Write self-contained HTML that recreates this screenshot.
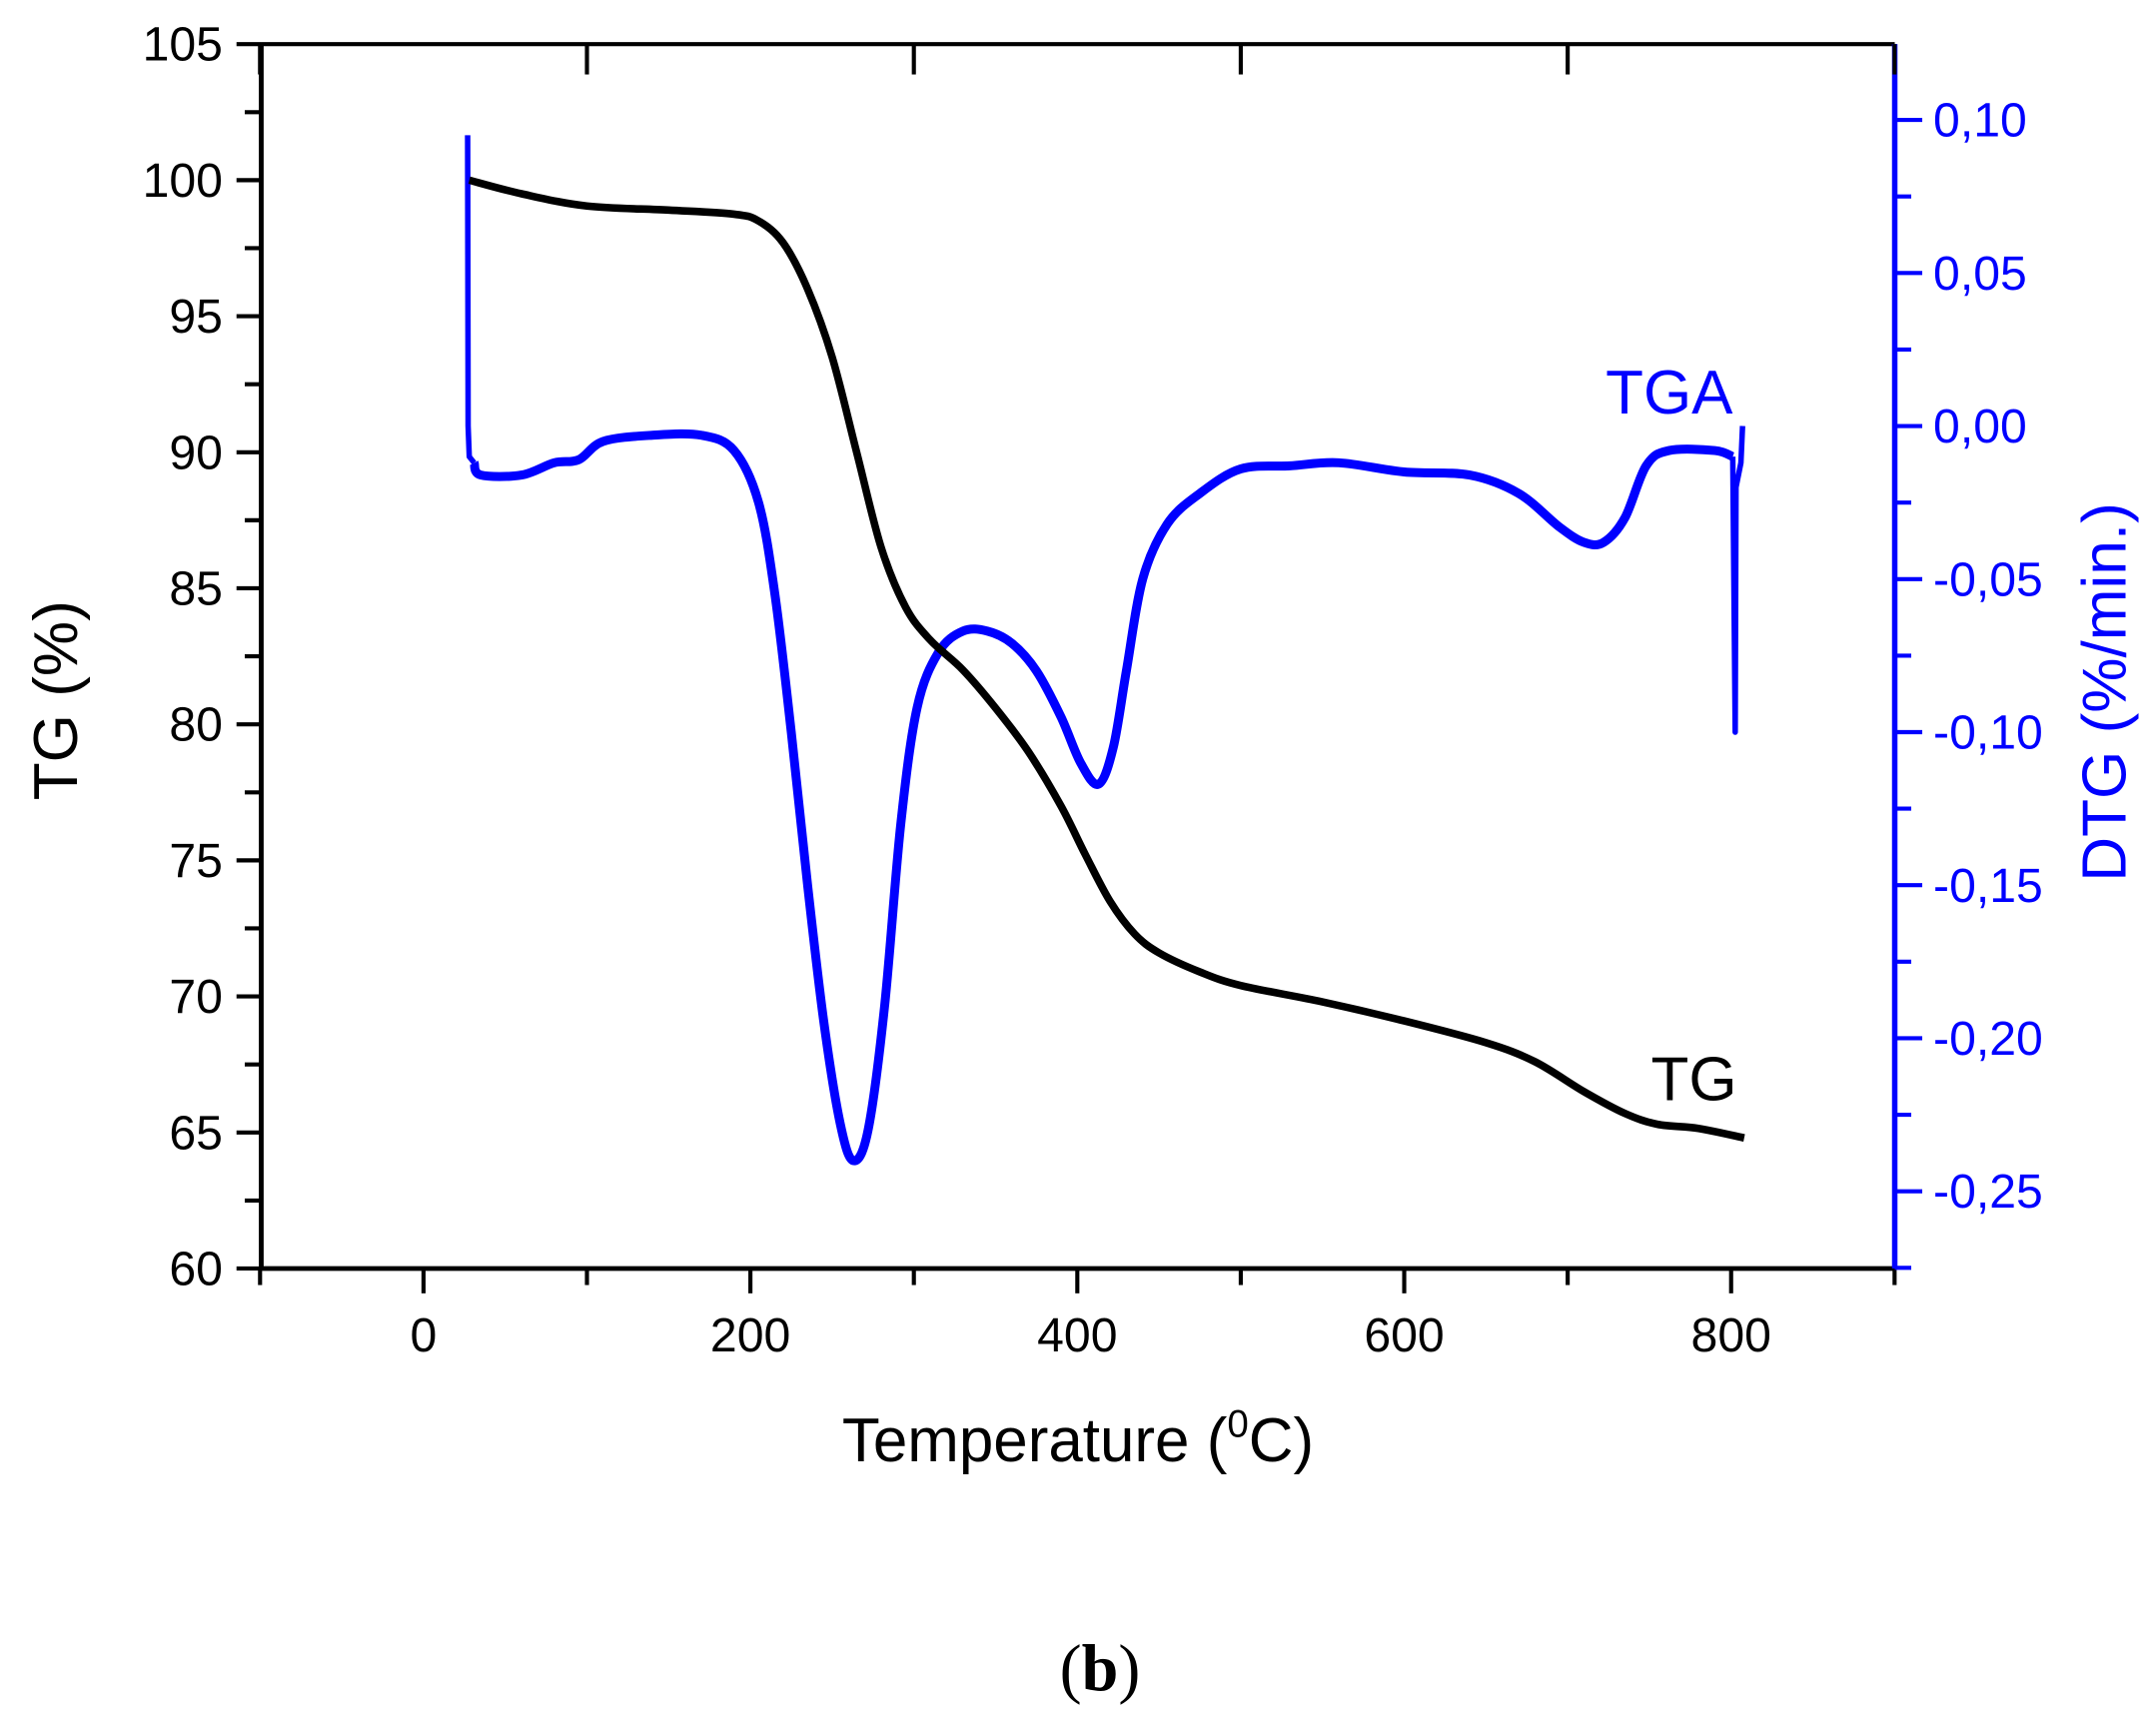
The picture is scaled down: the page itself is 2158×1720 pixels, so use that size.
<!DOCTYPE html>
<html><head><meta charset="utf-8"><style>html,body{margin:0;padding:0;background:#fff;}svg{display:block;}</style></head>
<body>
<svg id="s" width="2158" height="1720" viewBox="0 0 1568 1246" preserveAspectRatio="none" xmlns="http://www.w3.org/2000/svg" font-family="Liberation Sans, Arial, sans-serif">
<rect width="1568" height="1246" fill="#fff"/>
<g id="axes"></g>
<path id="dtg" fill="none" stroke="#0000ff" stroke-width="6.5" stroke-linejoin="round"/>
<path id="dtgs" fill="none" stroke="#0000ff" stroke-width="4" stroke-linejoin="round"/>
<path id="tg" fill="none" stroke="#000" stroke-width="5.5" stroke-linejoin="round"/>
<text x="1214" y="300" font-size="45" fill="#0000ff" text-anchor="middle">TGA</text>
<text x="1232" y="798" font-size="45" fill="#000" text-anchor="middle">TG</text>
<text transform="translate(56,508) rotate(-90)" font-size="45" text-anchor="middle">TG (%)</text>
<text transform="translate(1546,502) rotate(-90)" font-size="45" fill="#0000ff" text-anchor="middle">DTG (%/min.)</text>
<text x="784" y="1060" font-size="45" text-anchor="middle">Temperature (<tspan font-size="28" dy="-18">0</tspan><tspan dy="18">C)</tspan></text>
<text x="800" y="1226" font-size="48" font-family="Liberation Serif, serif" text-anchor="middle">(<tspan font-weight="bold">b</tspan>)</text>
</svg>
<script>
var L=190,R=1378,T=32,B=920;
function X(t){return 308+(1259-308)*t/800;}
function Y(v){return 32+(v*-1+105)*(888/45);}
function Y2(d){return 309-(d)*2220;}
var g='';
g+='<line x1="'+L+'" y1="'+T+'" x2="'+R+'" y2="'+T+'" stroke="#000" stroke-width="3"/>';
g+='<line x1="'+L+'" y1="'+B+'" x2="'+R+'" y2="'+B+'" stroke="#000" stroke-width="3.5"/>';
g+='<line x1="'+L+'" y1="'+T+'" x2="'+L+'" y2="'+B+'" stroke="#000" stroke-width="3.5"/>';
g+='<line x1="'+R+'" y1="'+T+'" x2="'+R+'" y2="'+B+'" stroke="#0000ff" stroke-width="4"/>';
for(var v=60;v<=105;v+=2.5){var y=Y(v),maj=(v%5==0);g+='<line x1="'+(L-(maj?18:12))+'" y1="'+y+'" x2="'+L+'" y2="'+y+'" stroke="#000" stroke-width="3"/>';
 if(maj)g+='<text x="'+(L-28)+'" y="'+(y+12)+'" font-size="35" text-anchor="end">'+v+'</text>';}
for(var t=-100;t<=900;t+=100){var x=X(t),maj=(t%200==0);g+='<line x1="'+x+'" y1="'+B+'" x2="'+x+'" y2="'+(B+(maj?18:12))+'" stroke="#000" stroke-width="3"/>';
 g+='<line x1="'+x+'" y1="'+T+'" x2="'+x+'" y2="'+(T+(maj?0:22))+'" stroke="#000" stroke-width="3"/>';
 if(maj&&t>=0&&t<=800)g+='<text x="'+x+'" y="'+(B+60)+'" font-size="35" text-anchor="middle">'+t+'</text>';}
for(var i=-11;i<=5;i++){var d=i*0.025,y=Y2(d);if(y<T||y>B)continue;var maj=(i%2==0);
 g+='<line x1="'+R+'" y1="'+y+'" x2="'+(R+(maj?20:12))+'" y2="'+y+'" stroke="#0000ff" stroke-width="3"/>';
 if(maj){var s=(d<0?'-':'')+Math.abs(d).toFixed(2).replace('.',',');g+='<text x="'+(R+28)+'" y="'+(y+12)+'" font-size="35" fill="#0000ff">'+s+'</text>';}}
document.getElementById('axes').innerHTML=g;
function cr(P){var d='M'+P[0][0]+','+P[0][1];for(var i=0;i<P.length-1;i++){var p0=P[i-1]||P[i],p1=P[i],p2=P[i+1],p3=P[i+2]||p2;
 d+=' C'+(p1[0]+(p2[0]-p0[0])/6)+','+(p1[1]+(p2[1]-p0[1])/6)+' '+(p2[0]-(p3[0]-p1[0])/6)+','+(p2[1]-(p3[1]-p1[1])/6)+' '+p2[0]+','+p2[1];}return d;}
var tg=[[28,100],[60,99.5],[100,99.05],[150,98.9],[190,98.75],[205,98.5],[220,97.7],[235,96],[250,93.5],[265,90],[280,86.5],[295,84.3],[310,83.1],[330,82],[350,80.6],[370,79],[390,77],[405,75.2],[420,73.5],[435,72.3],[450,71.6],[475,70.9],[500,70.4],[550,69.8],[600,69.1],[650,68.3],[680,67.6],[710,66.5],[735,65.7],[755,65.3],[780,65.15],[808,64.8]];
document.getElementById('tg').setAttribute('d',cr(tg.map(function(p){return [X(p[0]),Y(p[1])];})));
var dt=[[31,-0.012],[35,-0.016],[60,-0.016],[80,-0.012],[95,-0.011],[110,-0.005],[140,-0.003],[170,-0.003],[190,-0.008],[205,-0.025],[215,-0.055],[225,-0.1],[235,-0.15],[245,-0.195],[255,-0.228],[263,-0.24],[272,-0.23],[282,-0.19],[292,-0.13],[302,-0.092],[315,-0.074],[330,-0.067],[345,-0.067],[360,-0.071],[375,-0.08],[390,-0.095],[402,-0.11],[413,-0.117],[422,-0.105],[430,-0.08],[440,-0.05],[455,-0.032],[475,-0.022],[500,-0.014],[530,-0.013],[560,-0.012],[600,-0.015],[640,-0.016],[670,-0.022],[695,-0.033],[710,-0.038],[722,-0.038],[735,-0.03],[748,-0.013],[762,-0.008],[790,-0.008],[801,-0.01]];
document.getElementById('dtg').setAttribute('d',cr(dt.map(function(p){return [X(p[0]),Y2(p[1])];})));
var sp=[[27,0.095],[27.3,0.0],[28,-0.01],[31,-0.012]];
var ep=[[801,-0.01],[802.5,-0.1],[803,-0.02],[806,-0.012],[807,0.0]];
function pl(a){return 'M'+a.map(function(p){return X(p[0])+','+Y2(p[1]);}).join(' L');}
document.getElementById('dtgs').setAttribute('d',pl(sp)+' '+pl(ep));
</script>
</body></html>
